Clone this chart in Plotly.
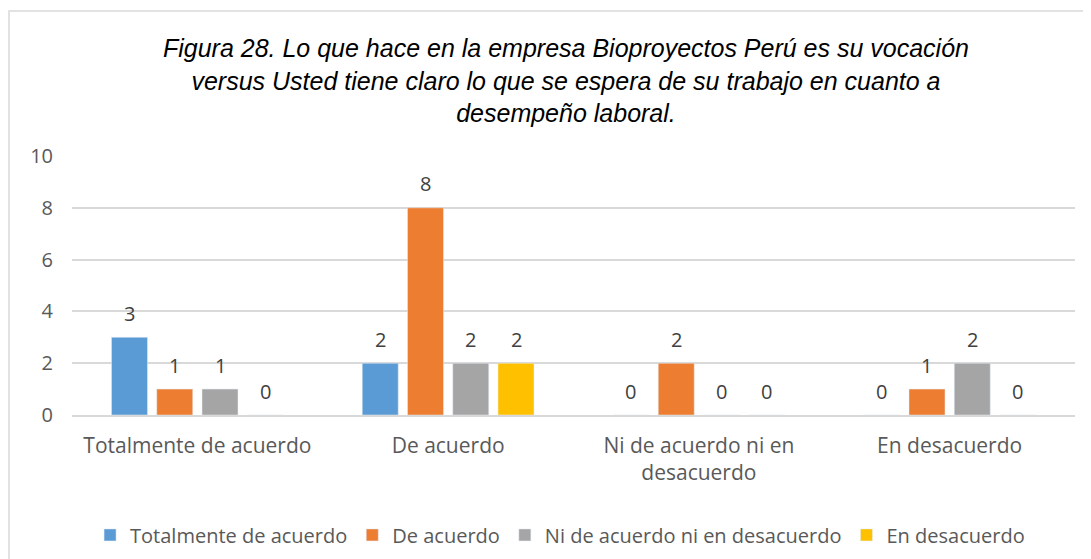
import plotly.graph_objects as go

categorias = ["Totalmente de acuerdo", "De acuerdo", "Ni de acuerdo ni en desacuerdo", "En desacuerdo"]
etiquetas_eje = ["Totalmente de acuerdo", "De acuerdo", "Ni de acuerdo ni en<br>desacuerdo", "En desacuerdo"]

series = ["Totalmente de acuerdo", "De acuerdo", "Ni de acuerdo ni en desacuerdo", "En desacuerdo"]
totalmente = [3, 2, 0, 0]
de_acuerdo = [1, 8, 2, 1]
ni_ni = [1, 2, 0, 2]
desacuerdo = [0, 2, 0, 0]
valores = [totalmente, de_acuerdo, ni_ni, desacuerdo]
colores = ["#5b9bd5", "#ed7d31", "#a5a5a5", "#ffc000"]

fuente = "Open Sans"
gris = "#595959"

fig = go.Figure()
for nombre, vals, color in zip(series, valores, colores):
    fig.add_trace(go.Bar(x=categorias, y=vals, name=nombre, marker_color=color))

# etiquetas de valor, un poco por encima de cada barra (como en excel)
paso = 45.3
for i, vals in enumerate(valores):
    for cat, v in zip(categorias, vals):
        fig.add_annotation(x=cat, y=v, text=str(v), showarrow=False,
                           xshift=(i - 1.5) * paso, yshift=24, yanchor="middle",
                           font=dict(family=fuente, size=20, color="#404040"))

fig.update_layout(
    width=1091, height=559,
    margin=dict(l=64, r=24, t=148, b=152),
    paper_bgcolor="white", plot_bgcolor="white",
    barmode="group", bargap=0.278, bargroupgap=0.205,
    title=dict(
        text="Figura 28. Lo que hace en la empresa Bioproyectos Perú es su vocación<br>"
             "versus Usted tiene claro lo que se espera de su trabajo en cuanto a<br>"
             "desempeño laboral.",
        font=dict(family="Liberation Sans", size=25, color="black", style="italic"),
        x=0.4925, xref="paper", xanchor="center", y=0.912, yref="container", yanchor="top"
    ),
    font=dict(family=fuente, size=20, color=gris),
    showlegend=True,
    legend=dict(orientation="h", x=0.4866, xanchor="center", y=-0.463, yanchor="middle",
                font=dict(family=fuente, size=20, color=gris),
                itemwidth=30, tracegroupgap=0),
    shapes=[dict(type="rect", xref="paper", yref="paper",
                 x0=-0.0628, x1=1.1, y0=-0.7, y1=1.56,
                 line=dict(color="#d9d9d9", width=1.5), layer="below")]
)
fig.update_xaxes(tickvals=categorias, ticktext=etiquetas_eje, showline=True,
                 linecolor="#d9d9d9", linewidth=1.5, ticks="", ticklabelstandoff=11,
                 tickfont=dict(family=fuente, size=21, color=gris))
fig.update_yaxes(range=[0, 10], dtick=2, showgrid=True, gridcolor="#d9d9d9",
                 gridwidth=1.5, zeroline=False, ticks="", ticklabelstandoff=18,
                 tickfont=dict(family=fuente, size=20, color=gris))

fig.write_html("out.html")
